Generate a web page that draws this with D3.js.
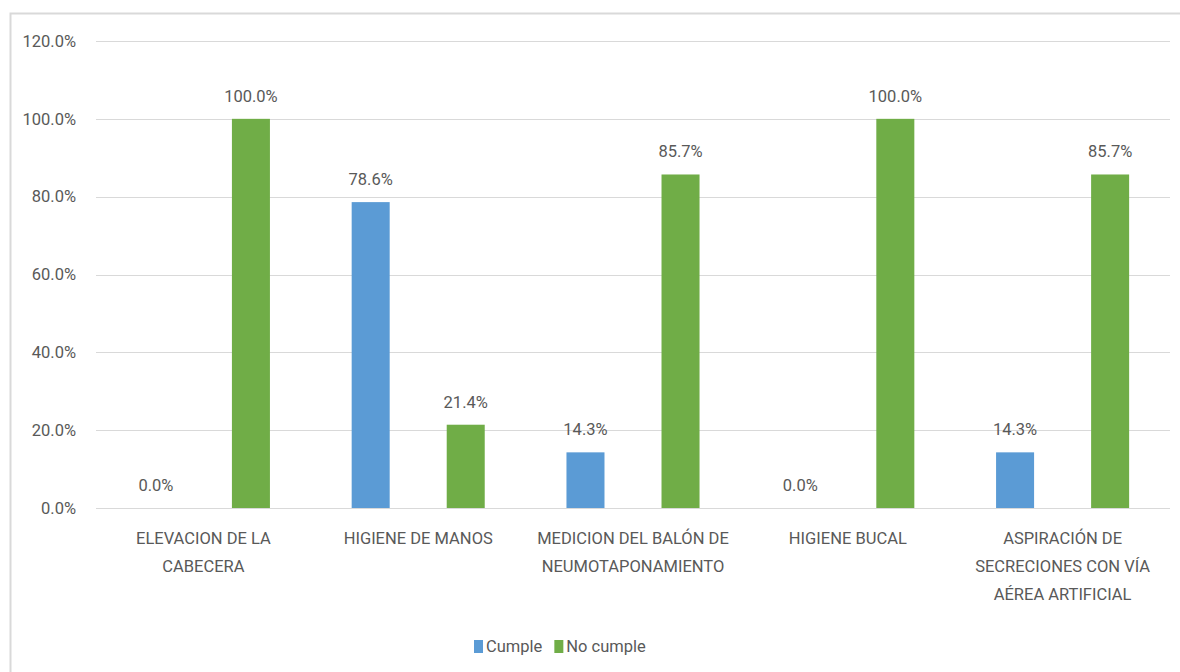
<!DOCTYPE html>
<html>
<head>
<meta charset="utf-8">
<script src="https://d3js.org/d3.v7.min.js"></script>
<style>
    body { margin: 0; background: #fff; }
    text { font-family: "Roboto", "DejaVu Sans", sans-serif; fill: #595959; }
</style>
</head>
<body>
<div class="chart"></div>
<script>
// data
const categories = [
    "ELEVACION DE LA CABECERA",
    "HIGIENE DE MANOS",
    "MEDICION DEL BALÓN DE NEUMOTAPONAMIENTO",
    "HIGIENE BUCAL",
    "ASPIRACIÓN DE SECRECIONES CON VÍA AÉREA ARTIFICIAL"
];
const categoryLines = [
    ["ELEVACION DE LA", "CABECERA"],
    ["HIGIENE DE MANOS"],
    ["MEDICION DEL BALÓN DE", "NEUMOTAPONAMIENTO"],
    ["HIGIENE BUCAL"],
    ["ASPIRACIÓN DE", "SECRECIONES CON VÍA", "AÉREA ARTIFICIAL"]
];
const seriesNames = ["Cumple", "No cumple"];
const cumple = [0.0, 0.786, 0.143, 0.0, 0.143];
const noCumple = [1.0, 0.214, 0.857, 1.0, 0.857];
const yTicks = [0, 0.2, 0.4, 0.6, 0.8, 1.0, 1.2];

const colors = { "Cumple": "#5b9bd5", "No cumple": "#70ad47" };

const width = 1180, height = 672;
const margin = { left: 96, right: 10, top: 41, bottom: 164 };

const svg = d3.select(".chart").append("svg")
    .attr("width", width)
    .attr("height", height);

// outer frame
svg.append("rect")
    .attr("x", 10.5).attr("y", 13.5)
    .attr("width", width + 10).attr("height", height + 10)
    .attr("fill", "none")
    .attr("stroke", "#d9d9d9")
    .attr("stroke-width", 2);

const x0 = d3.scaleBand()
    .domain(categories)
    .range([margin.left, width - margin.right]);

const x1 = d3.scaleBand()
    .domain(seriesNames)
    .range([0, x0.bandwidth()])
    .paddingInner(0.6)
    .paddingOuter(0.43);

const y = d3.scaleLinear()
    .domain([0, 1.2])
    .range([height - margin.bottom, margin.top]);

// gridlines
svg.append("g")
    .selectAll("line")
    .data(yTicks)
    .join("line")
    .attr("x1", margin.left)
    .attr("x2", width - margin.right)
    .attr("y1", d => Math.round(y(d)) + 0.5)
    .attr("y2", d => Math.round(y(d)) + 0.5)
    .attr("stroke", "#d9d9d9")
    .attr("stroke-width", 1);

// y axis labels
const yAxis = svg.append("g")
    .attr("transform", "translate(" + (margin.left - 17) + ",0)")
    .call(d3.axisLeft(y).tickValues(yTicks).tickFormat(d3.format(".1%")).tickSize(0));
yAxis.select(".domain").remove();
yAxis.selectAll("text")
    .attr("font-size", 16.5)
    .attr("font-family", null)
    .attr("fill", "#595959");

const rows = categories.map((c, i) => ({
    cat: c,
    values: [
        { series: "Cumple", value: cumple[i] },
        { series: "No cumple", value: noCumple[i] }
    ]
}));

const groups = svg.append("g")
    .selectAll("g")
    .data(rows)
    .join("g")
    .attr("transform", d => "translate(" + x0(d.cat) + ",0)");

groups.selectAll("rect")
    .data(d => d.values)
    .join("rect")
    .attr("x", d => x1(d.series))
    .attr("y", d => y(d.value))
    .attr("width", x1.bandwidth())
    .attr("height", d => y(0) - y(d.value))
    .attr("fill", d => colors[d.series]);

groups.selectAll("text.val")
    .data(d => d.values)
    .join("text")
    .attr("class", "val")
    .attr("x", d => x1(d.series) + x1.bandwidth() / 2)
    .attr("y", d => y(d.value) - 17)
    .attr("text-anchor", "middle")
    .attr("font-size", 16.5)
    .text(d => d3.format(".1%")(d.value));

// category labels
const xAxis = svg.append("g")
    .attr("transform", "translate(0," + y(0) + ")")
    .call(d3.axisBottom(x0).tickSize(0).tickFormat(""));
xAxis.select(".domain").remove();
xAxis.selectAll(".tick").each(function (d, i) {
    const t = d3.select(this).append("text")
        .attr("text-anchor", "middle")
        .attr("font-size", 16.5)
        .attr("fill", "#595959");
    categoryLines[i].forEach((line, j) => {
        t.append("tspan")
            .attr("x", 0)
            .attr("y", 36 + j * 28)
            .text(line);
    });
});

// legend, items placed one after the other
const legend = svg.append("g")
    .attr("transform", "translate(474,646)");
let lx = 0;
seriesNames.forEach(s => {
    const g = legend.append("g").attr("transform", "translate(" + lx + ",0)");
    g.append("rect")
        .attr("x", 0).attr("y", -6)
        .attr("width", 9).attr("height", 13)
        .attr("fill", colors[s]);
    const t = g.append("text")
        .attr("x", 12).attr("y", 6)
        .attr("font-size", 16.5)
        .text(s);
    lx += 12 + t.node().getComputedTextLength() + 12;
});
</script>
</body>
</html>
